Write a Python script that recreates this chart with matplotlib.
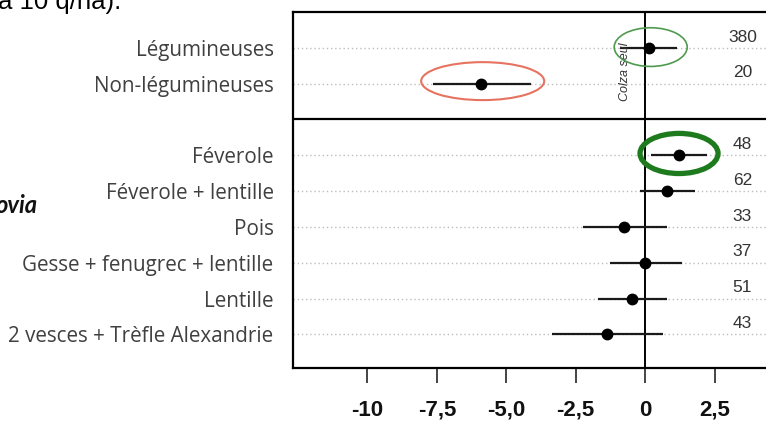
import matplotlib
matplotlib.use("Agg")
import matplotlib.pyplot as plt
from matplotlib.patches import Ellipse

# effect estimates (difference in q/ha)
group_labels = ["Légumineuses", "Non-légumineuses"]
group_mean = [0.15, -5.9]
group_low = [-0.9, -7.65]
group_high = [1.15, -4.1]
group_n = [380, 20]

species_labels = ["Féverole", "Féverole + lentille", "Pois",
                  "Gesse + fenugrec + lentille", "Lentille",
                  "2 vesces + Trèfle Alexandrie"]
species_mean = [1.22, 0.8, -0.76, 0.0, -0.47, -1.37]
species_low = [0.2, -0.18, -2.23, -1.26, -1.7, -3.35]
species_high = [2.23, 1.8, 0.8, 1.33, 0.8, 0.65]
species_n = [48, 62, 33, 37, 51, 43]

xticks = [-10, -7.5, -5.0, -2.5, 0, 2.5]
xtick_labels = ["-10", "-7,5", "-5,0", "-2,5", "0", "2,5"]

# row positions: two groups, a gap row for the divider, then the species
labels = group_labels + species_labels
means = group_mean + species_mean
lows = group_low + species_low
highs = group_high + species_high
ns = group_n + species_n
rows = list(range(len(group_labels))) + [len(group_labels) + 1 + i for i in range(len(species_labels))]
divider = len(group_labels)

fig = plt.figure(figsize=(7.66, 4.21), dpi=100)
ax = fig.add_axes([293 / 766, 1 - 368 / 421, 0.641, 356 / 421])

# dotted guide lines
for r in rows:
    ax.axhline(r, color="#bdbdbd", lw=1.0, ls=(0, (1, 2)), zorder=0)

ax.axvline(0, color="black", lw=1.4, zorder=1)
ax.axhline(divider, color="black", lw=1.6, zorder=1)

for r, m, lo, hi in zip(rows, means, lows, highs):
    ax.plot([lo, hi], [r, r], color="#1a1a1a", lw=1.6, solid_capstyle="butt", zorder=3)
    ax.plot(m, r, "o", color="black", ms=7.5, zorder=4)

for r, n in zip(rows, ns):
    ax.text(3.5, r - 0.3, str(n), ha="center", va="center", fontsize=12.5,
            family="Liberation Sans", color="#333333")

ax.text(-0.72, 0.67, "Colza seul", rotation=90, ha="center", va="center",
        fontsize=9, style="italic", family="Liberation Sans", color="#333333")

# highlight ellipses
ax.add_patch(Ellipse((group_mean[0] + 0.05, -0.02), 2.63, 1.08, fill=False,
                     ec="#4f9a4f", lw=1.2, zorder=5))
ax.add_patch(Ellipse((group_mean[1] + 0.05, 0.93), 4.43, 1.06, fill=False,
                     ec="#e6735f", lw=1.5, zorder=5))
ax.add_patch(Ellipse((species_mean[0], rows[2] - 0.05), 2.81, 1.12, fill=False,
                     ec="#1d7a1d", lw=3.8, zorder=5))

ax.set_xlim(-12.68, 5.0)
ax.set_ylim(8.94, -1.0)

ax.set_yticks(rows)
ax.set_yticklabels(labels, fontsize=14.9, family="Open Sans", color="#404040")
ax.tick_params(axis="y", length=0, pad=14)

ax.set_xticks(xticks)
ax.set_xticklabels(xtick_labels, fontsize=16, fontweight="bold",
                   family="Liberation Sans", color="#111111")
ax.tick_params(axis="x", length=11, width=1.4, color="#444444", pad=12)

for s in ax.spines.values():
    s.set_linewidth(1.6)
    s.set_color("black")

# fragments of surrounding slide text (cut by the screenshot edge)
fig.text(-0.002, 1 - 9 / 421, "à 10 q/ha).", fontsize=18.5, family="Liberation Sans",
         ha="left", va="baseline", color="black")
fig.text(37 / 766, 1 - 213 / 421, "ovia", fontsize=17, family="Lato",
         fontweight="bold", style="italic", ha="right", va="baseline", color="#111111")

fig.savefig("out.png", dpi=100)
